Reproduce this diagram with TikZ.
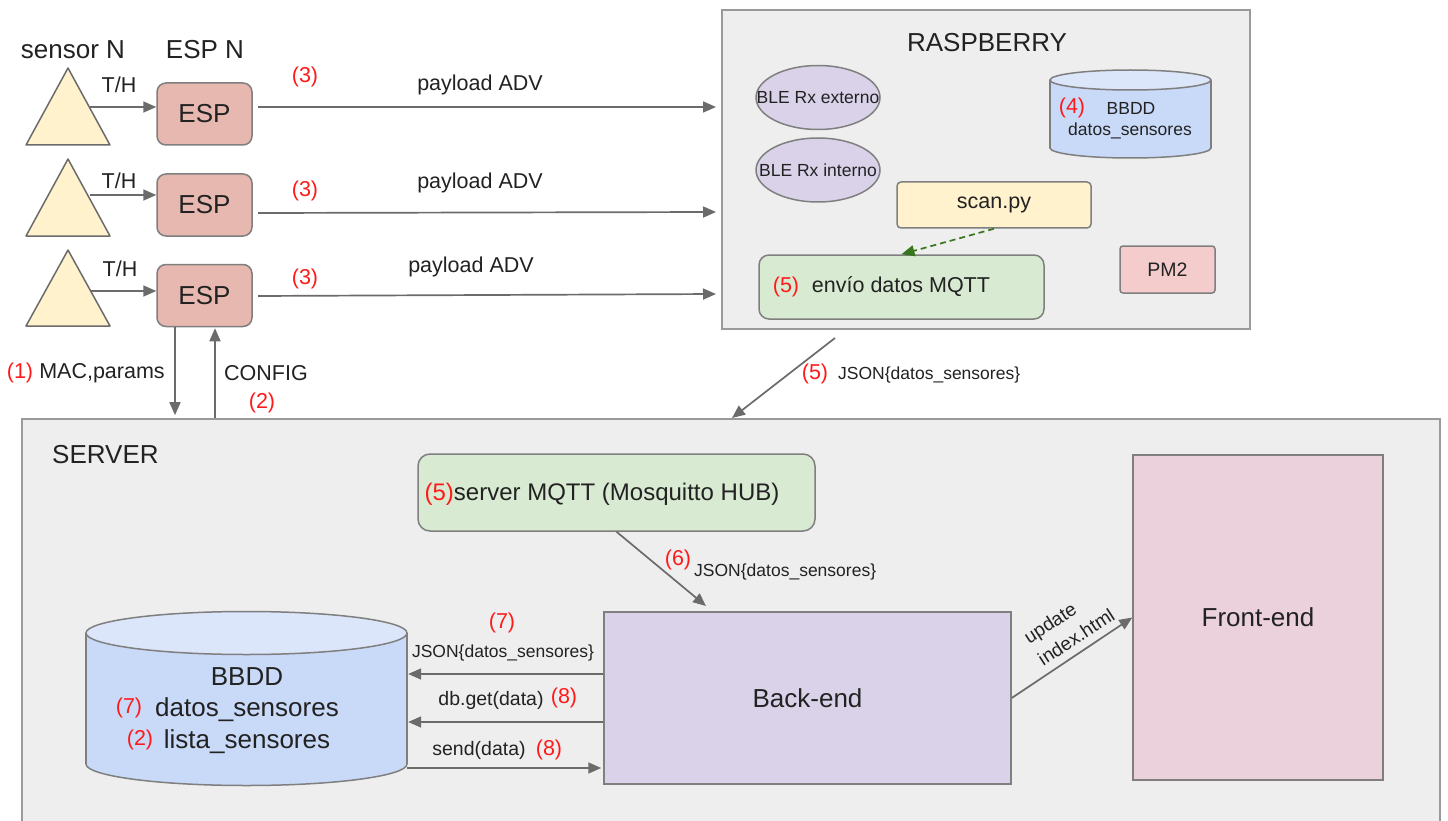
\documentclass[tikz,border=0pt]{standalone}
\usepackage{fontspec}
\setmainfont{Liberation Sans}
\usetikzlibrary{arrows.meta,shapes.geometric}

\definecolor{ink}{HTML}{222222}
\definecolor{wire}{HTML}{6B6B6B}
\definecolor{frame}{HTML}{9A9A9A}
\definecolor{edge}{HTML}{7F7F7F}
\definecolor{panel}{HTML}{EEEEEE}
\definecolor{espfill}{HTML}{E6B8AF}
\definecolor{sensfill}{HTML}{FFF2CC}
\definecolor{lilac}{HTML}{D9D2E9}
\definecolor{drumbody}{HTML}{C9DAF8}
\definecolor{drumtop}{HTML}{DCE6FA}
\definecolor{mint}{HTML}{D9EAD3}
\definecolor{rose}{HTML}{F4CCCC}
\definecolor{pinkfe}{HTML}{EAD1DC}
\definecolor{step}{HTML}{FF1A1A}
\definecolor{leaf}{HTML}{38761D}

\begin{document}
\begin{tikzpicture}[x=1pt,y=-1pt,
  every node/.style={text=ink, inner sep=0pt},
  fa/.style={font=\fontsize{17.5}{21}\selectfont},
  fb/.style={font=\fontsize{19.5}{24}\selectfont},
  fc/.style={font=\fontsize{21.5}{26}\selectfont},
  fd/.style={font=\fontsize{24}{28}\selectfont},
  fe/.style={font=\fontsize{26}{30}\selectfont},
  num/.style={text=step},
  container/.style={draw=frame, fill=panel, line width=1.6pt},
  espbox/.style={draw=edge, fill=espfill, line width=1.5pt, rounded corners=9pt,
    minimum width=95pt, minimum height=62pt, fe},
  tri/.style={draw=edge!85!black, fill=sensfill, line width=1.5pt, line join=round},
  ble/.style={ellipse, draw=edge, fill=lilac, line width=1.5pt,
    minimum width=124pt, minimum height=64pt},
  drumline/.style={draw=edge, line width=1.5pt},
  plainbox/.style={draw=edge, line width=1.5pt},
  arr/.style={draw=wire, line width=1.7pt, -{Triangle[length=13pt,width=11pt]}},
  dasharr/.style={draw=leaf, line width=1.7pt, dash pattern=on 6pt off 4pt,
    -{Triangle[length=13pt,width=11pt]}}
]
\clip (0,0) rectangle (1448,821);
\fill[white] (0,0) rectangle (1448,821);

% ---------------- containers ----------------
\node[container, minimum width=528pt, minimum height=319pt] (rasp) at (986,169.5) {};
\node[container, minimum width=1418pt, minimum height=440pt] (srv) at (731,639) {};

% ---------------- sensors and ESP boards ----------------
\node[fe] (sensN) at (73,50) {sensor N};
\node[fe] (espN) at (205,50) {ESP N};

\filldraw[tri] (68,68) -- (110,145) -- (26,145) -- cycle;
\filldraw[tri] (68,159) -- (110,236) -- (26,236) -- cycle;
\filldraw[tri] (68,250) -- (110,326) -- (26,326) -- cycle;
\coordinate (th1) at (90,107);
\coordinate (th2) at (90,195);
\coordinate (th3) at (90,291);

\node[espbox] (esp1) at (204.5,114) {ESP};
\node[espbox] (esp2) at (204.5,205) {ESP};
\node[espbox] (esp3) at (204.5,295.5) {ESP};

\draw[arr] (th1) -- (th1 -| esp1.west);
\draw[arr] (th2) -- (th2 -| esp2.west);
\draw[arr] (th3) -- (th3 -| esp3.west);
\node[fc] (thl1) at (119,85) {T/H};
\node[fc] (thl2) at (119,181) {T/H};
\node[fc] (thl3) at (120,269) {T/H};

% advertising payloads to the Raspberry
\coordinate (pa1) at (258,107);  \coordinate (pb1) at (716,107);
\coordinate (pa2) at (258,213);  \coordinate (pb2) at (716,212);
\coordinate (pa3) at (258,296);  \coordinate (pb3) at (716,294);
\draw[arr] (pa1) -- (pb1);
\draw[arr] (pa2) -- (pb2);
\draw[arr] (pa3) -- (pb3);
\node[fc] (pl1) at (480,85) {payload ADV};
\node[fc] (pl2) at (480,183) {payload ADV};
\node[fc] (pl3) at (471,267) {payload ADV};
\node[fc, num] (n3a) at (305,77) {(3)};
\node[fc, num] (n3b) at (305,191) {(3)};
\node[fc, num] (n3c) at (305,279) {(3)};

% registration and configuration with the server
\coordinate (dn) at (175,0);
\coordinate (up) at (215,0);
\draw[arr, shorten >=3pt] (esp3.south -| dn) -- (srv.north -| dn);
\draw[arr, shorten >=1pt] (srv.north -| up) -- (esp3.south -| up);
\node[fc, num] (n1) at (20,373) {(1)};
\node[fc] (macp) at (102,373) {MAC,params};
\node[fc] (cfg) at (266,373) {CONFIG};
\node[fc, num] (n2) at (262,403) {(2)};

% ---------------- Raspberry contents ----------------
\node[fe] (raspt) at (987,43) {RASPBERRY};
\node[ble] (blex) at (818,97.5) {};
\node[fa] (blext) at (818,97.5) {BLE Rx externo};
\node[ble] (blin) at (818,170) {};
\node[fa] (blint) at (818,170) {BLE Rx interno};

% local database drum
\fill[drumbody] (1050,80) rectangle (1211,148);
\filldraw[drumline, fill=drumbody] (1130.5,148) ellipse [x radius=80.5, y radius=10];
\fill[drumbody] (1051,80) rectangle (1210,148);
\draw[drumline] (1050,80) -- (1050,148) (1211,80) -- (1211,148);
\filldraw[drumline, fill=drumtop] (1130.5,80) ellipse [x radius=80.5, y radius=10];
\node[minimum width=161pt, minimum height=88pt] (rdb) at (1130.5,114) {};
\node[fc, num] (n4) at (1072,108) {(4)};
\node[fa] (rdbt) at (1131,108) {BBDD};
\node[fa] (rdbs) at (1130,131) {datos\_sensores};

\node[plainbox, fill=sensfill, rounded corners=4pt, minimum width=194pt,
  minimum height=46pt, fc] (scan) at (994,205) {scan.py};
\node[plainbox, fill=mint, rounded corners=10pt, minimum width=285pt,
  minimum height=64pt] (envio) at (901.5,287) {};
\node[fc, num] (n5a) at (786,287) {(5)};
\node[fc] (enviot) at (901,287) {envío datos MQTT};
\draw[dasharr] (scan.south) -- (envio.north);
\node[plainbox, fill=rose, rounded corners=3pt, minimum width=95pt,
  minimum height=47pt, fb] (pm2) at (1167.5,269.5) {PM2};

% Raspberry to server
\coordinate (rs1) at (835,338);
\coordinate (rs2) at (732,418);
\draw[arr] (rs1) -- (rs2);
\node[fc, num] (n5b) at (815,374) {(5)};
\node[fa, anchor=west] (js1) at (838,375) {JSON\{datos\_sensores\}};

% ---------------- server contents ----------------
\node[fe, anchor=west] (srvt) at (52,455) {SERVER};

\node[plainbox, fill=mint, rounded corners=12pt, minimum width=397pt,
  minimum height=77pt] (mqtt) at (616.5,492.5) {};
\node[fd] (mqttt) at (602,494) {\textcolor{step}{(5)}server MQTT (Mosquitto HUB)};

\node[plainbox, fill=lilac, minimum width=407pt, minimum height=172pt, fe]
  (back) at (807.5,698) {Back-end};
\node[plainbox, fill=pinkfe, minimum width=250pt, minimum height=325pt]
  (front) at (1258,617.5) {};
\node[fe] (frontt) at (1258,617.5) {Front-end};

\coordinate (bt) at (706,606);
\draw[arr] (mqtt.south) -- (bt);
\node[fc, num] (n6) at (678,560) {(6)};
\node[fa, anchor=west] (js2) at (694,572) {JSON\{datos\_sensores\}};

% server database drum
\fill[drumbody] (86,633) rectangle (407,764);
\filldraw[drumline, fill=drumbody] (246.5,764) ellipse [x radius=160.5, y radius=21.5];
\fill[drumbody] (87,633) rectangle (406,764);
\draw[drumline] (86,633) -- (86,764) (407,633) -- (407,764);
\filldraw[drumline, fill=drumtop] (246.5,633) ellipse [x radius=160.5, y radius=21.5];
\node[minimum width=321pt, minimum height=173pt] (sdb) at (246.5,698.5) {};
\node[fe] (sdbt) at (247,677) {BBDD};
\node[fc, num] (n7a) at (129,708) {(7)};
\node[fe] (sdb1) at (247,710) {datos\_sensores};
\node[fc, num] (n2b) at (140,740) {(2)};
\node[fe] (sdb2) at (247,742) {lista\_sensores};

% back-end <-> database
\coordinate (ya) at (0,674);
\coordinate (yb) at (0,722);
\coordinate (yc) at (0,768);
\draw[arr, shorten >=1pt] (back.west |- ya) -- (sdb.east |- ya);
\draw[arr, shorten >=1pt] (back.west |- yb) -- (sdb.east |- yb);
\draw[arr, shorten >=2pt] (sdb.east |- yc) -- (back.west |- yc);
\node[fc, num] (n7b) at (502,623) {(7)};
\node[fa] (js3) at (503,653) {JSON\{datos\_sensores\}};
\node[fb] (dbg) at (491,700) {db.get(data)};
\node[fc, num] (n8a) at (564,698) {(8)};
\node[fb] (snd) at (479,750) {send(data)};
\node[fc, num] (n8b) at (549,750) {(8)};

% back-end to front-end
\draw[arr] (back.east) -- (front.west);
\node[font=\fontsize{19}{26}\selectfont, align=left, rotate=33] (upd) at (1069,626)
  {update\\index.html};
\end{tikzpicture}
\end{document}
